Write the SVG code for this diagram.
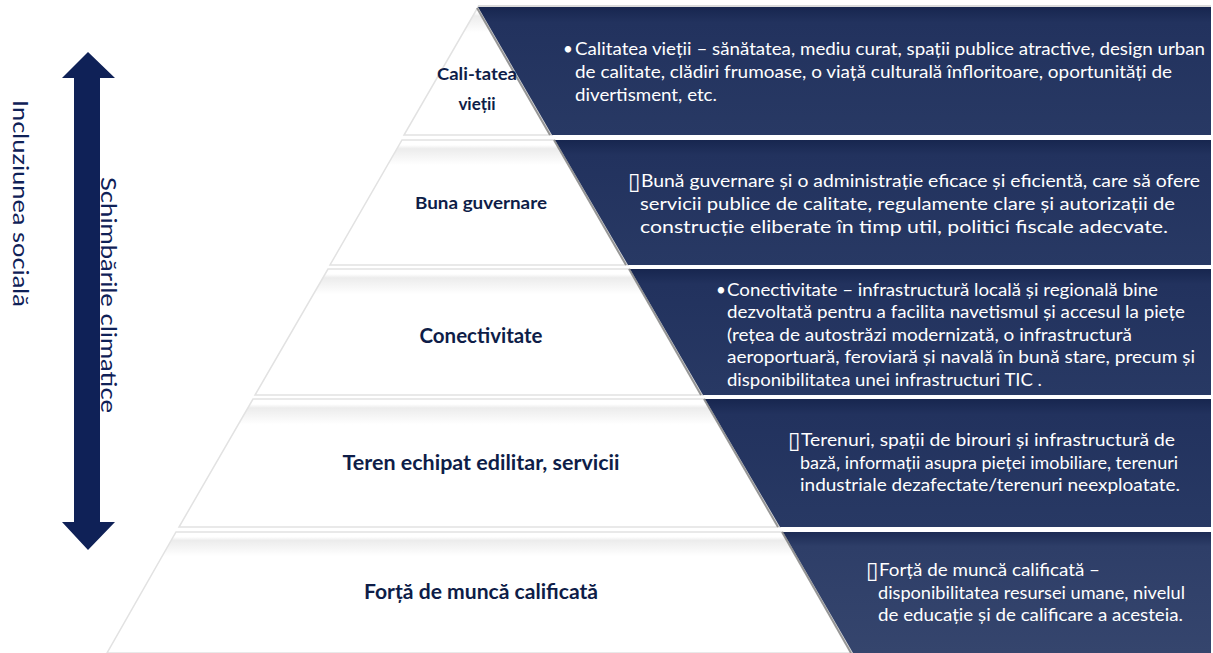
<svg xmlns="http://www.w3.org/2000/svg" width="1213" height="653" viewBox="0 0 1213 653">
<style>
.lbl{font-family:Lato,"Open Sans","Liberation Sans",sans-serif;font-weight:700;fill:#0e1d48;text-anchor:middle}
.desc{font-family:Lato,"Open Sans","Liberation Sans",sans-serif;font-size:17px;fill:#ffffff}
.box{font-family:"DejaVu Sans",sans-serif;font-size:23px;fill:#ffffff}
.side{font-family:Lato,"Open Sans","Liberation Sans",sans-serif;font-size:21px;fill:#0f2157}
.wband{fill:url(#wg);stroke:#e2e2e2;stroke-width:1.5}
.dband{fill:url(#dg)}
.shadow{stroke:#6a6a6a;stroke-width:2;fill:none;opacity:0.7}
</style>
<defs>
<linearGradient id="wg" x1="0" y1="0" x2="0" y2="1">
<stop offset="0" stop-color="#ffffff"/>
<stop offset="0.04" stop-color="#ffffff"/>
<stop offset="0.07" stop-color="#ececec"/>
<stop offset="0.2" stop-color="#ffffff"/>
<stop offset="1" stop-color="#ffffff"/>
</linearGradient>
<linearGradient id="dg" x1="0" y1="0" x2="0" y2="1">
<stop offset="0" stop-color="#17264f"/>
<stop offset="0.12" stop-color="#22325e"/>
<stop offset="1" stop-color="#283964"/>
</linearGradient>
<linearGradient id="dg5" x1="0" y1="0" x2="0" y2="1">
<stop offset="0" stop-color="#1c2b54"/>
<stop offset="0.12" stop-color="#2e3e68"/>
<stop offset="1" stop-color="#35456d"/>
</linearGradient>
</defs>
<rect width="1213" height="653" fill="#ffffff"/>

<g id="arrow">
<polygon points="88,52 115,78 100,78 100,522 115,522 88,550 62,522 74,522 74,78 62,78" fill="#0f2157"/>
</g>
<g id="side-labels">
<text class="side" transform="translate(13,100) rotate(90)" textLength="207" lengthAdjust="spacingAndGlyphs">Incluziunea socială</text>
<text class="side" transform="translate(101,177) rotate(90)" textLength="236" lengthAdjust="spacingAndGlyphs">Schimbările climatice</text>
</g>

<g id="connectors"></g>

<g id="band1">
<polygon class="wband" points="478,7 552,135 404,135"/>
<polygon class="dband" points="478,7 1211,7 1211,135 552,135"/>
<line x1="478" y1="6" x2="1211" y2="6" stroke="#cfcfcf" stroke-width="1.5"/>
<line class="shadow" x1="477" y1="8" x2="550" y2="135"/>
<text class="lbl" x="477" y="80" font-size="17" textLength="80" lengthAdjust="spacingAndGlyphs">Cali-tatea</text>
<text class="lbl" x="477" y="110" font-size="17">vieții</text>
<text class="desc" x="563" y="55">•</text>
<text class="desc" x="575" y="55" textLength="630" lengthAdjust="spacingAndGlyphs">Calitatea vieții – sănătatea, mediu curat, spații publice atractive, design urban</text>
<text class="desc" x="575" y="78" textLength="597" lengthAdjust="spacingAndGlyphs">de calitate, clădiri frumoase, o viață culturală înfloritoare, oportunități de</text>
<text class="desc" x="575" y="101" textLength="142" lengthAdjust="spacingAndGlyphs">divertisment, etc.</text>
</g>

<g id="band2">
<polygon class="wband" points="402,140 555,140 628,265 330,265"/>
<polygon class="dband" points="555,140 1211,140 1211,265 628,265"/>
<line class="shadow" x1="554" y1="140" x2="626" y2="265"/>
<text class="lbl" x="481" y="209" font-size="17" textLength="132" lengthAdjust="spacingAndGlyphs">Buna guvernare</text>
<text class="box" x="628" y="189">▯</text>
<text class="desc" x="641" y="187" textLength="559" lengthAdjust="spacingAndGlyphs">Bună guvernare și o administrație eficace și eficientă, care să ofere</text>
<text class="desc" x="640" y="210" textLength="535" lengthAdjust="spacingAndGlyphs">servicii publice de calitate, regulamente clare și autorizații de</text>
<text class="desc" x="640" y="233" textLength="528" lengthAdjust="spacingAndGlyphs">construcție eliberate în timp util, politici fiscale adecvate.</text>
</g>

<g id="band3">
<polygon class="wband" points="328,269 630,269 703,395 255,395"/>
<polygon class="dband" points="630,269 1211,269 1211,395 703,395"/>
<line class="shadow" x1="629" y1="269" x2="701" y2="395"/>
<text class="lbl" x="481" y="343" font-size="20" textLength="123" lengthAdjust="spacingAndGlyphs">Conectivitate</text>
<text class="desc" x="716" y="296">•</text>
<text class="desc" x="727" y="296" textLength="431" lengthAdjust="spacingAndGlyphs">Conectivitate – infrastructură locală și regională bine</text>
<text class="desc" x="727" y="318" textLength="458" lengthAdjust="spacingAndGlyphs">dezvoltată pentru a facilita navetismul și accesul la piețe</text>
<text class="desc" x="727" y="341" textLength="405" lengthAdjust="spacingAndGlyphs">(rețea de autostrăzi modernizată, o infrastructură</text>
<text class="desc" x="727" y="363" textLength="468" lengthAdjust="spacingAndGlyphs">aeroportuară, feroviară și navală în bună stare, precum și</text>
<text class="desc" x="727" y="386" textLength="315" lengthAdjust="spacingAndGlyphs">disponibilitatea unei infrastructuri TIC .</text>
</g>

<g id="band4">
<polygon class="wband" points="253,399 705,399 780,527 179,527"/>
<polygon class="dband" points="705,399 1211,399 1211,527 780,527"/>
<line class="shadow" x1="704" y1="399" x2="778" y2="527"/>
<text class="lbl" x="481" y="470" font-size="20" textLength="277" lengthAdjust="spacingAndGlyphs">Teren echipat edilitar, servicii</text>
<text class="box" x="788" y="448">▯</text>
<text class="desc" x="801" y="446" textLength="374" lengthAdjust="spacingAndGlyphs">Terenuri, spații de birouri și infrastructură de</text>
<text class="desc" x="800" y="469" textLength="378" lengthAdjust="spacingAndGlyphs">bază, informații asupra pieței imobiliare, terenuri</text>
<text class="desc" x="800" y="491" textLength="380" lengthAdjust="spacingAndGlyphs">industriale dezafectate/terenuri neexploatate.</text>
</g>

<g id="band5">
<polygon class="wband" points="176,532 783,532 853,653 107,653"/>
<polygon points="783,532 1211,532 1211,653 853,653" fill="url(#dg5)"/>
<line class="shadow" x1="782" y1="532" x2="851" y2="653"/>
<text class="lbl" x="481" y="599" font-size="20" textLength="234" lengthAdjust="spacingAndGlyphs">Forță de muncă calificată</text>
<text class="box" x="866" y="578">▯</text>
<text class="desc" x="879" y="576" textLength="221" lengthAdjust="spacingAndGlyphs">Forță de muncă calificată –</text>
<text class="desc" x="878" y="599" textLength="307" lengthAdjust="spacingAndGlyphs">disponibilitatea resursei umane, nivelul</text>
<text class="desc" x="878" y="621" textLength="305" lengthAdjust="spacingAndGlyphs">de educație și de calificare a acesteia.</text>
</g>
</svg>
